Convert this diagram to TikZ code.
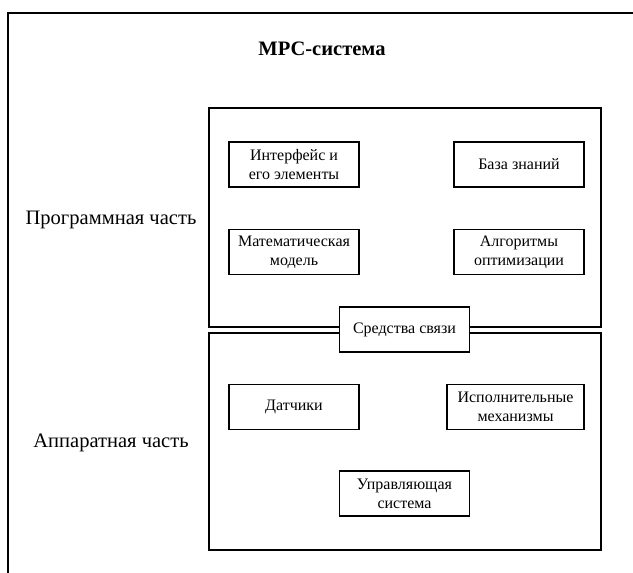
\documentclass[tikz,border=0pt]{standalone}
\usepackage{fontspec}
\setmainfont{Liberation Serif}

\tikzset{
  part/.style={draw, line width=0.9pt},
  unit/.style={draw, line width=0.9pt, fill=white, align=center,
    minimum width=97.5pt, minimum height=33.75pt, inner sep=2pt,
    font=\fontsize{12}{14.25}\selectfont},
  side/.style={font=\fontsize{15.4}{18}\selectfont},
}

\begin{document}
\begin{tikzpicture}[x=0.75pt, y=-0.75pt]
	\useasboundingbox (0,0) rectangle (633,573);
	\clip (0,0) rectangle (633,573);
	\draw[part] (8,13) rectangle (660,600); % outer frame, cut by the edge
	\node[font=\bfseries\fontsize{15.4}{18}\selectfont] (title) at (322,49) {МРС-система};
	% the two parts
	\draw[part] (209,108) rectangle (601,327);
	\draw[part] (209,333) rectangle (601,550);
	\node[side] (soft) at (111,220) {Программная часть};
	\node[side] (hard) at (111,443) {Аппаратная часть};
	% software units
	\node[unit] (iface) at (294,164.5) {Интерфейс и\\его элементы};
	\node[unit] (base) at (519,164.5) {База знаний};
	\node[unit] (model) at (294,252) {Математическая\\модель};
	\node[unit] (algo) at (519,252) {Алгоритмы\\оптимизации};
	% link between parts
	\node[unit] (link) at (404.5,329.5) {Средства связи};
	% hardware units
	\node[unit] (sensors) at (294,407) {Датчики};
	\node[unit, minimum width=102.75pt] (actors) at (515.5,407) {Исполнительные\\механизмы};
	\node[unit] (control) at (404.5,493.5) {Управляющая\\система};
\end{tikzpicture}
\end{document}
